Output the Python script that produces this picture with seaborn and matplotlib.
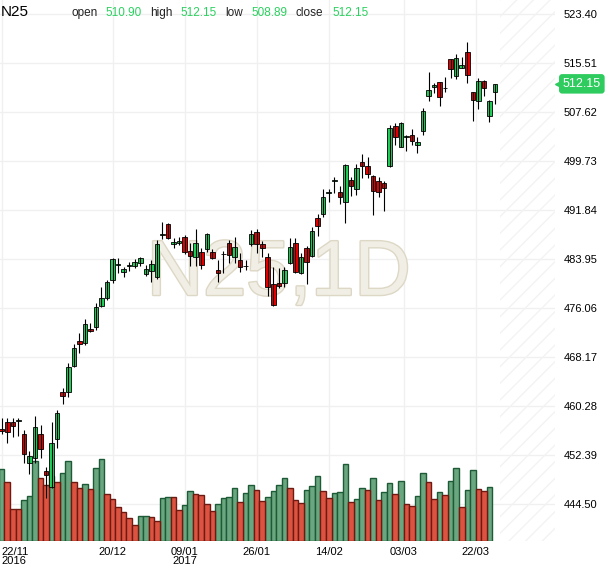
import numpy as np
import pandas as pd
import matplotlib
matplotlib.use('Agg')
import matplotlib.pyplot as plt
import matplotlib.patheffects as pe
import matplotlib.transforms as mtrans
import seaborn as sns

# daily candles N25, 22/11/2016 .. end of March 2017
opens = [456.58, 457.66, 457.66, 457.82, 455.72, 451.05, 451.96, 455.72, 449.77, 447.29,
         454.92, 462.61, 462.53, 466.77, 470.75, 470.42, 472.68, 473.05, 476.43, 477.67,
         480.57, 483.02, 481.81, 482.74, 482.87, 483.26, 481.49, 482.07, 481.00, 487.85,
         489.59, 486.32, 486.48, 487.54, 485.24, 484.22, 485.03, 485.56, 485.03, 482.18,
         484.68, 486.48, 484.32, 483.79, 482.79, 486.32, 488.25, 486.36, 484.22, 479.88,
         480.09, 480.04, 483.26, 486.57, 481.74, 485.67, 484.48, 490.60, 491.15, 494.61,
         496.46, 494.69, 493.08, 496.67, 495.17, 499.52, 498.92, 497.31, 496.51, 496.14,
         498.97, 505.37, 502.03, 503.63, 503.92, 502.26, 504.56, 510.20, 511.61, 512.45,
         511.45, 516.11, 513.42, 514.75, 517.23, 510.79, 509.44, 512.61, 507.03, 510.90]
highs = [458.35, 458.30, 458.30, 458.30, 456.41, 453.08, 458.67, 457.17, 450.46, 457.66,
         459.64, 463.10, 467.16, 470.22, 471.99, 474.29, 473.64, 476.91, 479.49, 480.57,
         484.11, 484.06, 482.61, 483.42, 483.90, 484.19, 482.98, 483.79, 487.01, 489.91,
         489.75, 487.28, 487.54, 487.81, 486.48, 488.73, 485.67, 488.06, 485.56, 483.79,
         485.29, 487.01, 487.54, 484.96, 483.79, 488.62, 488.73, 486.90, 484.96, 482.61,
         482.45, 482.72, 487.28, 487.28, 484.87, 486.04, 489.15, 491.15, 495.17, 495.17,
         497.20, 495.70, 499.25, 497.20, 499.25, 500.86, 500.42, 497.47, 497.20, 496.56,
         505.53, 505.80, 505.93, 503.84, 504.83, 503.64, 508.22, 514.01, 512.25, 512.50,
         513.21, 516.15, 516.91, 516.53, 518.84, 510.89, 513.05, 512.69, 509.55, 512.15]
lows = [455.77, 454.37, 455.34, 455.45, 451.15, 449.28, 451.05, 451.96, 445.42, 447.12,
        453.47, 460.55, 461.78, 466.61, 468.86, 470.10, 472.19, 472.52, 476.17, 477.35,
        480.13, 481.65, 481.10, 482.07, 482.55, 482.87, 481.26, 480.29, 480.73, 487.12,
        487.12, 485.67, 486.20, 484.76, 482.87, 482.87, 482.29, 485.03, 483.90, 480.29,
        481.65, 483.35, 483.26, 481.81, 482.18, 486.04, 484.96, 484.22, 477.99, 476.38,
        479.23, 479.39, 483.15, 481.75, 481.58, 479.93, 484.32, 487.65, 490.76, 493.18,
        494.53, 492.76, 489.70, 494.09, 494.25, 496.94, 496.94, 491.04, 493.88, 491.73,
        498.81, 502.31, 501.94, 501.39, 502.26, 500.97, 503.92, 509.44, 510.63, 508.63,
        510.89, 513.14, 512.88, 514.66, 512.34, 506.22, 508.05, 510.24, 505.96, 508.89]
closes = [456.25, 456.14, 457.11, 457.98, 452.50, 452.23, 456.95, 453.31, 449.22, 454.27,
          459.10, 461.89, 466.51, 469.57, 470.22, 473.48, 472.35, 476.27, 477.67, 480.25,
          483.90, 483.10, 482.34, 482.98, 483.42, 484.06, 482.29, 483.10, 486.32, 487.93,
          487.38, 486.74, 486.90, 485.03, 484.48, 486.48, 482.98, 487.93, 484.06, 481.65,
          484.76, 484.59, 485.83, 482.61, 482.87, 487.93, 486.32, 485.67, 479.39, 476.54,
          479.60, 482.18, 485.83, 481.91, 484.22, 483.42, 488.46, 489.31, 493.88, 494.69,
          496.62, 493.88, 499.09, 495.70, 498.55, 498.97, 497.59, 494.90, 494.69, 495.33,
          505.00, 503.64, 505.80, 503.71, 502.90, 502.75, 507.78, 511.16, 511.98, 509.99,
          511.53, 514.50, 516.27, 515.19, 513.58, 509.55, 512.61, 511.44, 509.39, 512.15]

volume = [717, 587, 320, 320, 410, 450, 800, 627, 560, 650,
          587, 677, 800, 587, 527, 567, 517, 727, 817, 467,
          420, 337, 287, 227, 157, 247, 247, 237, 197, 427,
          437, 437, 307, 357, 497, 467, 457, 367, 297, 367,
          427, 437, 527, 387, 477, 557, 510, 397, 437, 497,
          557, 627, 527, 407, 377, 507, 547, 647, 497, 427,
          477, 487, 767, 387, 417, 527, 507, 627, 407, 487,
          577, 467, 597, 367, 347, 447, 677, 587, 417, 487,
          457, 597, 727, 337, 507, 707, 517, 497, 537]
volume_dir = list("GRRRGGGRRG" "RGGRRGRGGR" "RRRRRGGRRG" "GRRGGRRRRG" "GGGRGGRRGG"
                  "GGRRRGGGRR" "GGGRGGRGRG" "GRGRRGGRRG" "RGGRGGRRG")

date_pos = [0, 20, 33, 46, 59, 72.5, 85.5]
date_labels = ['22/11\n2016', '20/12', '09/01\n2017', '26/01', '14/02', '03/03', '22/03']
price_ticks = [444.50, 452.39, 460.28, 468.17, 476.06, 483.95, 491.84, 499.73, 507.62, 515.51, 523.40]

sns.set_theme(style='white')
plt.rcParams['font.family'] = ['Liberation Sans', 'DejaVu Sans']
plt.rcParams['hatch.linewidth'] = 1.0

GREEN = '#22d05a'
RED = '#e80000'
TXT_GREEN = '#2bd15f'

W, H = 610, 568
fig = plt.figure(figsize=(W / 100, H / 100), dpi=100)
rect = [0, 27 / H, 555 / W, 541 / H]

n = len(opens)
idx = np.arange(n)
xlim = (-0.31, 99.82)
ylim = (438.54, 525.65)

# background axes: grid, watermark, ticks, future hatch
ax = fig.add_axes(rect)
ax.set_xlim(xlim)
ax.set_ylim(ylim)
for s in ax.spines.values():
    s.set_visible(False)
ax.set_xticks(date_pos, date_labels)
ax.set_yticks(price_ticks, [f'{p:.2f}' for p in price_ticks])
ax.yaxis.tick_right()
ax.tick_params(axis='y', length=0, pad=6, labelsize=8, labelcolor='black')
ax.tick_params(axis='x', length=0, pad=4, labelsize=8, labelcolor='black')
for lab in ax.get_xticklabels():
    lab.set_linespacing(0.95)
ax.get_xticklabels()[0].set_ha('left')
ax.get_xticklabels()[0].set_multialignment('left')
ax.grid(True, color='#f0f0f0', lw=1)
ax.axvspan(n - 0.1, xlim[1], facecolor='none', edgecolor='#f3f3f3', hatch='//', lw=0)
ax.text(0.502, 0.455, 'N25,1D', transform=ax.transAxes, ha='center', va='baseline',
        fontsize=56, color='#f1eee5',
        path_effects=[pe.withStroke(linewidth=2, foreground='#ddd7c5')])

# volume
axv = fig.add_axes(rect, sharex=ax)
axv.patch.set_alpha(0)
vol_df = pd.DataFrame({'idx': idx[:len(volume)], 'volume': volume, 'dir': volume_dir})
for d, fc, ec in [('G', '#6aa67f', '#1d5a36'), ('R', '#dc5441', '#6e1a12')]:
    sub = vol_df[vol_df['dir'] == d]
    sns.barplot(data=sub, x='idx', y='volume', native_scale=True, width=1,
                color=fc, edgecolor=ec, linewidth=1, saturation=1, errorbar=None, ax=axv)
axv.set_ylim(0, max(volume) * 6.62)
axv.axis('off')

# candles
axc = fig.add_axes(rect, sharex=ax, sharey=ax)
axc.patch.set_alpha(0)
o = np.array(opens)
c = np.array(closes)
up = c >= o
axc.vlines(idx, lows, highs, color='black', lw=0.8)
axc.bar(idx, np.maximum(np.abs(c - o), 0.04), bottom=np.minimum(o, c), width=0.82,
        color=np.where(up, GREEN, RED), edgecolor='black', linewidth=0.6)
axc.axis('off')
ax.set_xlim(xlim)
ax.set_ylim(ylim)

# last price tag
tr = mtrans.blended_transform_factory(ax.transAxes, ax.transData)
ax.text(1.014, closes[-1], f'{closes[-1]:.2f}', transform=tr, ha='left', va='center',
        fontsize=9, color='white', clip_on=False,
        bbox=dict(boxstyle='round,pad=0.3,rounding_size=0.25', fc='#2ecc5e', ec='none'))
ax.plot([1.006], [closes[-1]], marker='<', ms=5, color='#2ecc5e', transform=tr, clip_on=False)

# header
base = 1 - 15.6 / H
fig.text(0.8 / W, base, 'N25', fontsize=11, color='black', va='baseline')
header = [('open', 71, opens[-1], 105.5), ('high', 150.5, highs[-1], 180.5),
          ('low', 225.5, lows[-1], 251), ('close', 296, closes[-1], 332.5)]
for name, xn, val, xv in header:
    fig.text(xn / W, base, name, fontsize=8.5, color='#222222', va='baseline')
    fig.text(xv / W, base, f'{val:.2f}', fontsize=8.5, color=TXT_GREEN, va='baseline')

fig.savefig('out.png', dpi=100)
